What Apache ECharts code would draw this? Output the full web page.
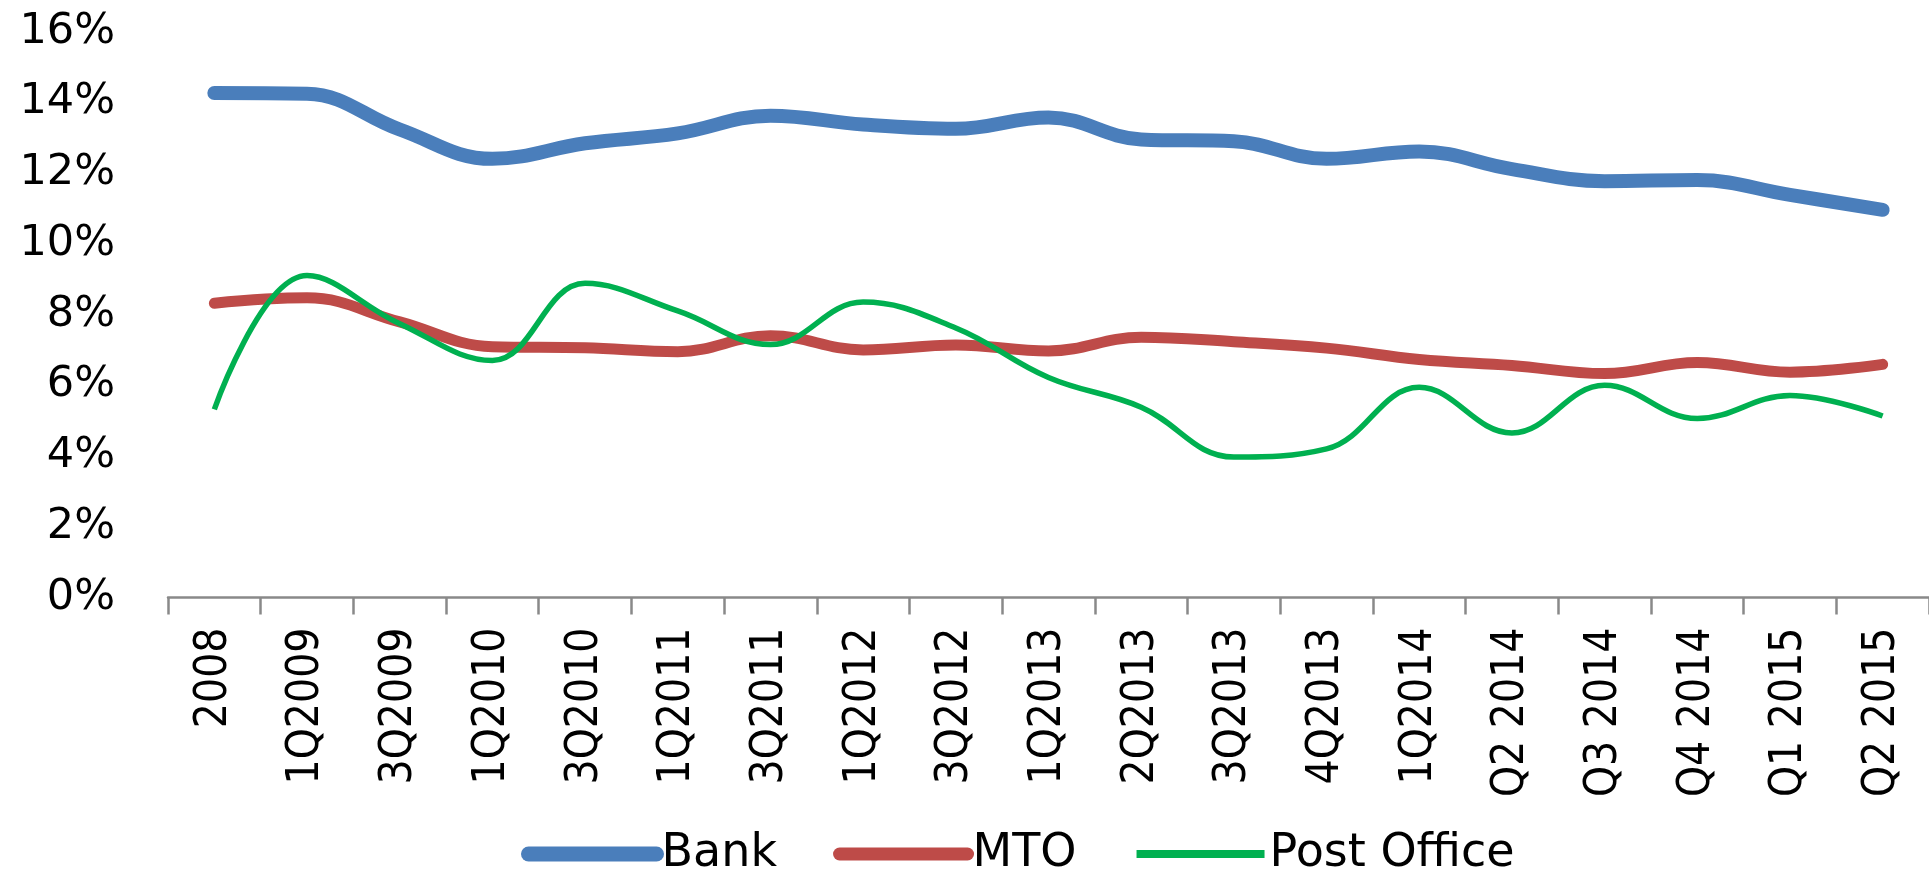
<!DOCTYPE html>
<html>
<head>
<meta charset="utf-8">
<script src="https://cdn.jsdelivr.net/npm/echarts@6/dist/echarts.min.js"></script>
<style>
html,body{margin:0;padding:0;background:#fff;overflow:hidden;}
#chart{width:1929px;height:870px;}
</style>
</head>
<body>
<div id="chart"></div>
<script>
const categories = ['2008','1Q2009','3Q2009','1Q2010','3Q2010','1Q2011','3Q2011','1Q2012','3Q2012','1Q2013','2Q2013','3Q2013','4Q2013','1Q2014','Q2 2014','Q3 2014','Q4 2014','Q1 2015','Q2 2015'];
const bank = [14.26,14.24,13.23,12.4,12.84,13.12,13.62,13.37,13.25,13.57,12.95,12.9,12.4,12.61,12.11,11.77,11.8,11.38,10.96];
const mto = [8.32,8.47,7.79,7.09,7.06,6.95,7.40,7.0,7.14,6.97,7.36,7.23,7.05,6.73,6.56,6.33,6.64,6.37,6.59];
const postOffice = [5.32,9.1,7.74,6.70,8.88,8.1,7.15,8.35,7.62,6.22,5.38,3.97,4.2,5.94,4.65,6.0,5.06,5.71,5.13];
const yTicks = [0,2,4,6,8,10,12,14,16];

const chart = echarts.init(document.getElementById('chart'));
chart.setOption({
  animation:false,
  backgroundColor:'#ffffff',
  grid:{left:168, right:-14, top:31.5, bottom:272.5, containLabel:false},
  legend:{
    left:516, top:826,
    itemWidth:128, itemHeight:16, itemGap:56,
    textStyle:{fontFamily:'DejaVu Sans', fontSize:46, color:'#000'},
    data:[
      {name:'Bank', lineStyle:{width:15, cap:'round'}, itemStyle:{opacity:0}},
      {name:'MTO', lineStyle:{width:13, cap:'round'}, itemStyle:{opacity:0}},
      {name:'Post Office', lineStyle:{width:8}, itemStyle:{opacity:0}}
    ]
  },
  xAxis:{
    type:'category', data:categories, boundaryGap:true,
    axisLine:{show:true, lineStyle:{color:'#898989', width:2.5}},
    axisTick:{show:true, length:17, lineStyle:{color:'#898989', width:2.5}},
    axisLabel:{interval:0, rotate:90, margin:30, fontFamily:'DejaVu Sans Condensed, DejaVu Sans', fontSize:44, color:'#000'},
    splitLine:{show:false}
  },
  yAxis:{
    type:'value', min:yTicks[0], max:yTicks[yTicks.length-1], interval:2,
    axisLine:{show:false}, axisTick:{show:false}, splitLine:{show:false},
    axisLabel:{formatter:'{value}%', margin:53, fontFamily:'DejaVu Sans', fontSize:43, color:'#000'}
  },
  series:[
    {name:'Bank', type:'line', data:bank, smooth:0.4, symbol:'none', z:3,
     lineStyle:{color:'#4A7EBB', width:14, cap:'round', join:'round'}, itemStyle:{color:'#4A7EBB'}},
    {name:'MTO', type:'line', data:mto, smooth:0.4, symbol:'none', z:2,
     lineStyle:{color:'#BE4B48', width:11, cap:'round', join:'round'}, itemStyle:{color:'#BE4B48'}},
    {name:'Post Office', type:'line', data:postOffice, smooth:0.4, symbol:'none', z:4,
     lineStyle:{color:'#00B050', width:5.5, join:'round'}, itemStyle:{color:'#00B050'}}
  ]
});
</script>
</body>
</html>
